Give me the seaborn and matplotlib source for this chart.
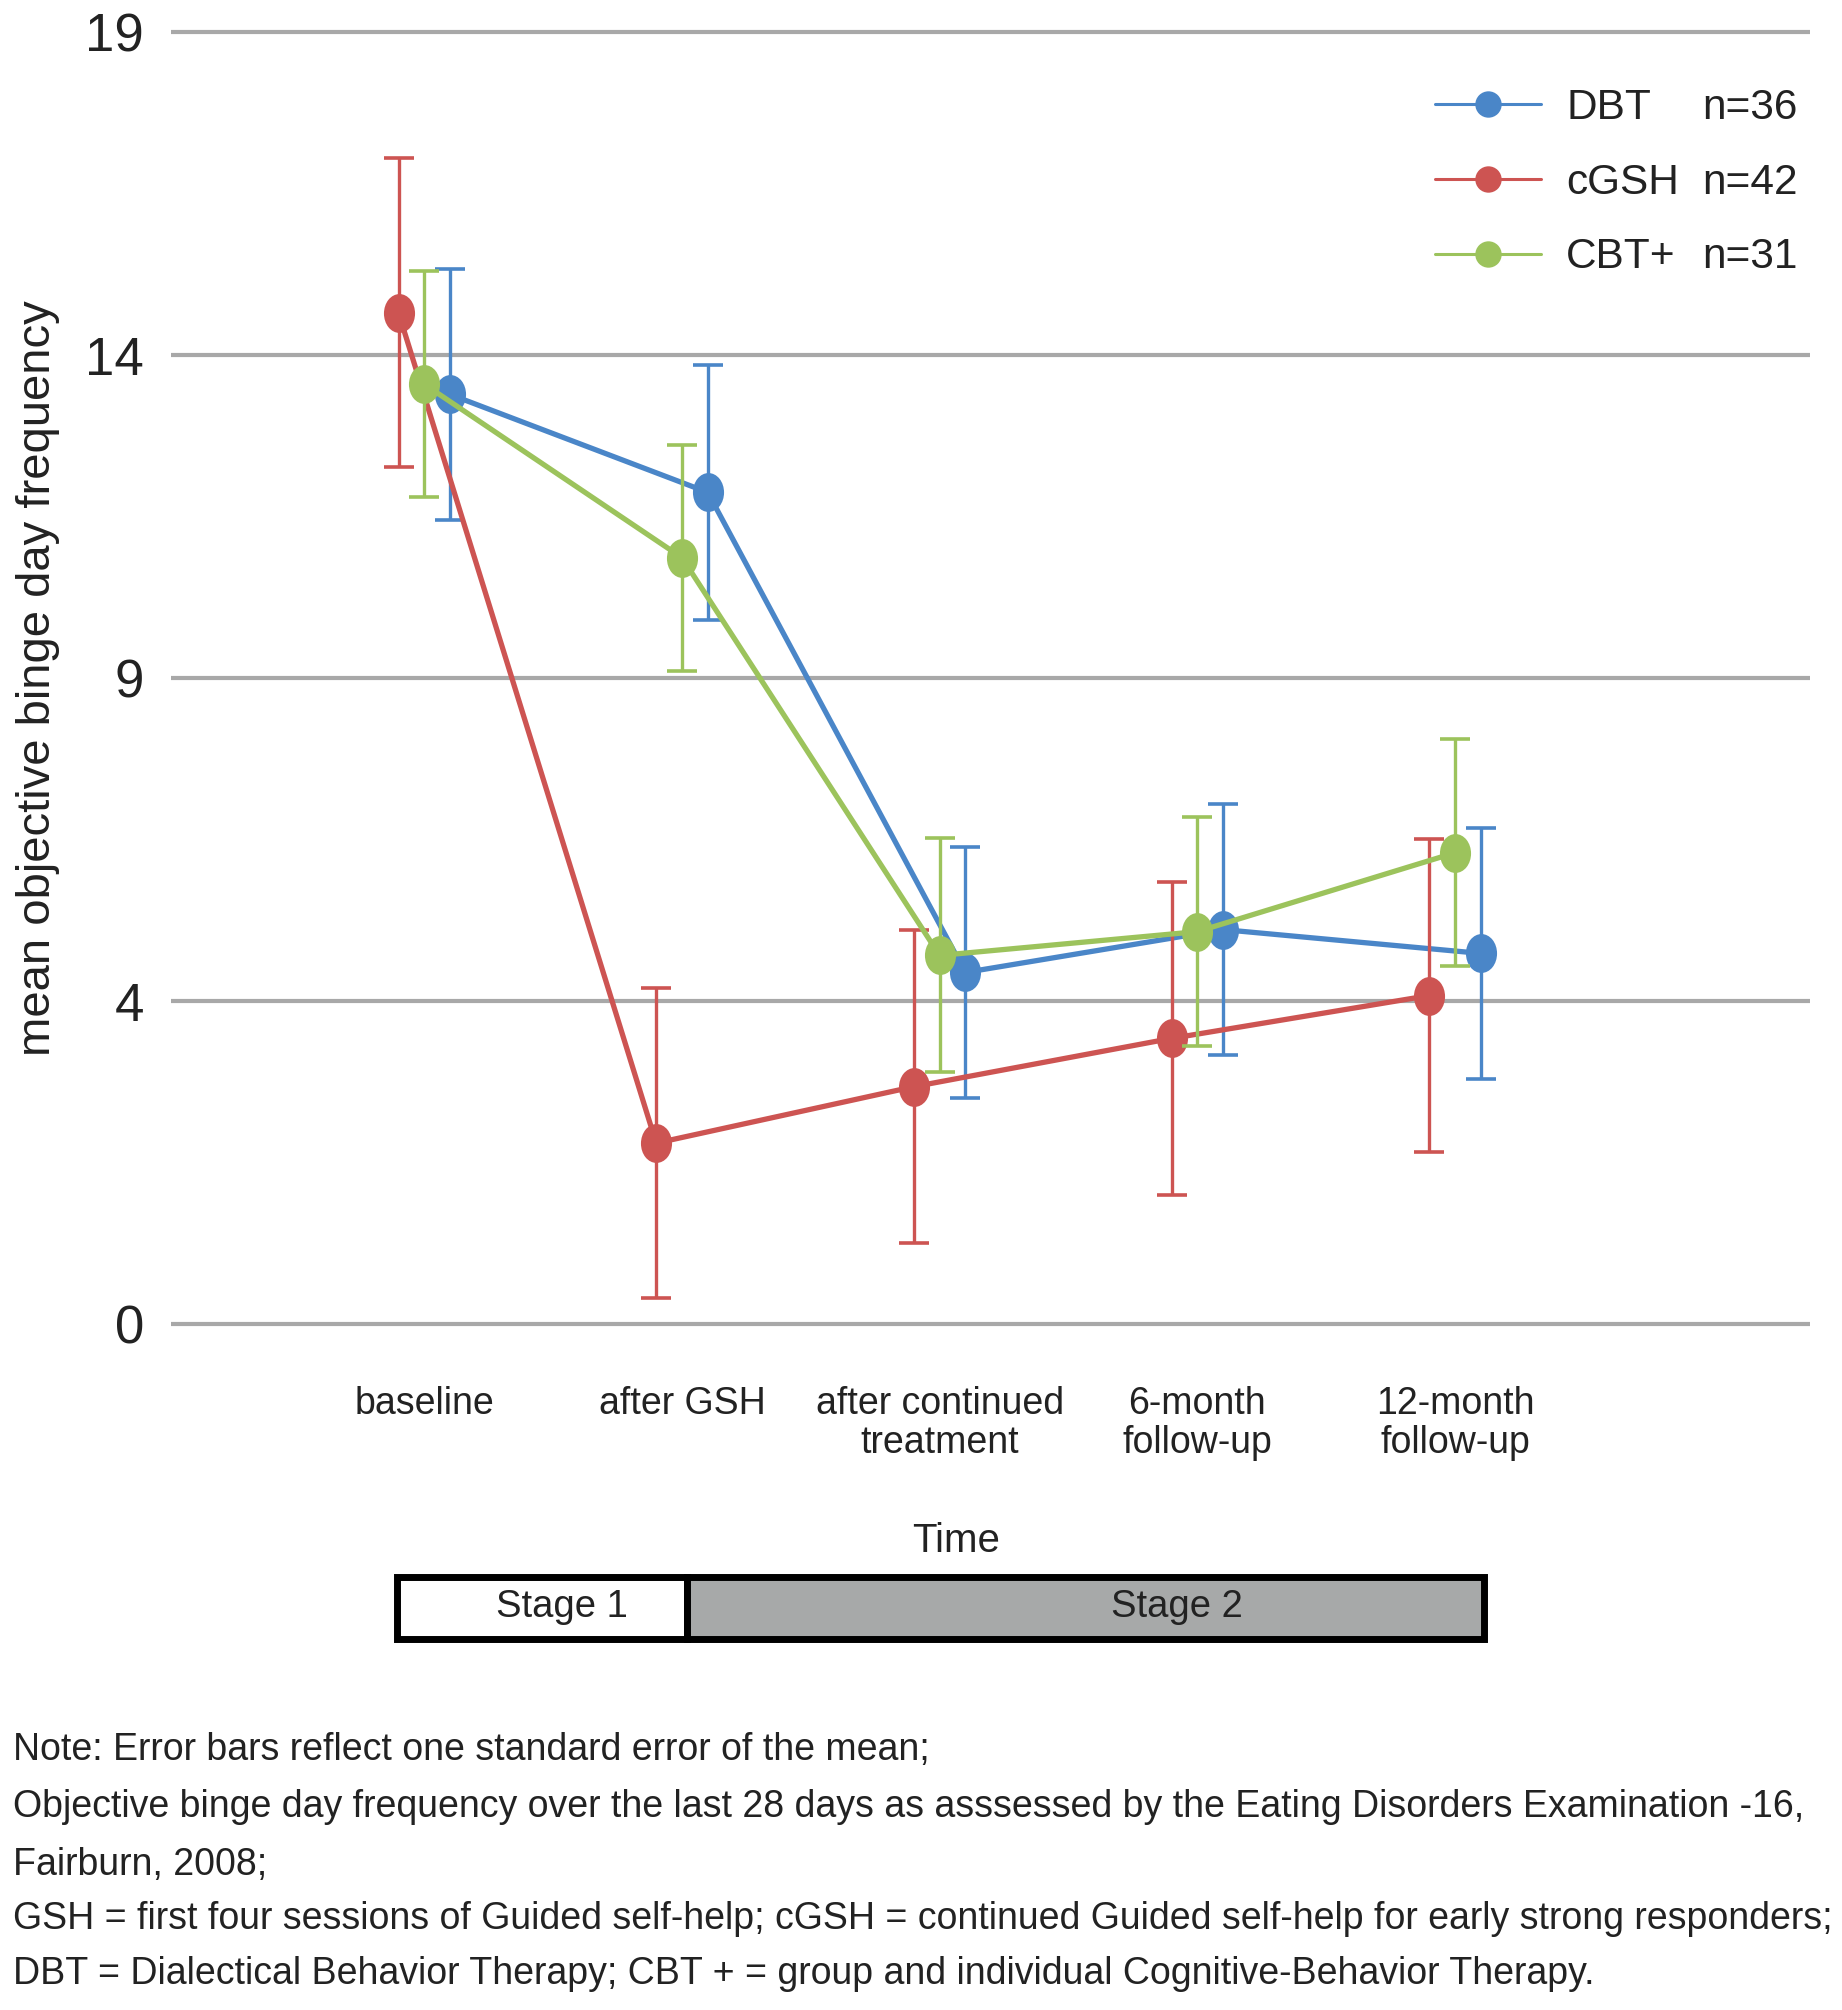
import numpy as np
import pandas as pd
import matplotlib
matplotlib.use('Agg')
import matplotlib.pyplot as plt
import seaborn as sns
from matplotlib.path import Path
from matplotlib.transforms import Affine2D
from matplotlib.lines import Line2D
from matplotlib.patches import Rectangle

# data (means and one standard error)
steps = ['baseline', 'after GSH', 'after continued\ntreatment',
         '6-month\nfollow-up', '12-month\nfollow-up']
groups = ['DBT', 'cGSH', 'CBT+']
group_n = ['n=36', 'n=42', 'n=31']
group_colors = ['#4a86c8', '#cd5452', '#9cc35c']
group_offset = [0.1, -0.1, 0.0]

dbt_mean = [13.67, 12.23, 5.17, 5.80, 5.45]
dbt_se = [1.84, 1.88, 1.85, 1.85, 1.85]
cgsh_mean = [14.87, 2.66, 3.49, 4.20, 4.83]
cgsh_se = [2.27, 2.28, 2.30, 2.30, 2.30]
cbt_mean = [13.82, 11.27, 5.42, 5.77, 6.93]
cbt_se = [1.66, 1.66, 1.72, 1.68, 1.67]

y_ticks = [0, 4.75, 9.5, 14.25, 19]
y_ticklabels = ['0', '4', '9', '14', '19']

notes = [
    'Note: Error bars reflect one standard error of the mean;',
    'Objective binge day frequency over the last 28 days as asssessed by the Eating Disorders Examination -16,',
    'Fairburn, 2008;',
    'GSH = first four sessions of Guided self-help; cGSH = continued Guided self-help for early strong responders;',
    'DBT = Dialectical Behavior Therapy; CBT + = group and individual Cognitive-Behavior Therapy.',
]

rows = []
for g, m, s, off in zip(groups, [dbt_mean, cgsh_mean, cbt_mean],
                        [dbt_se, cgsh_se, cbt_se], group_offset):
    for i, (mv, sv) in enumerate(zip(m, s)):
        rows.append({'group': g, 'step': i + 1, 'x': i + 1 + off,
                     'mean': mv, 'se': sv})
df = pd.DataFrame(rows)

sns.set_theme(style='white')
plt.rcParams['font.family'] = ['Liberation Sans', 'DejaVu Sans']

W, H = 1842, 2010
fig = plt.figure(figsize=(W / 100, H / 100), dpi=100)

def fx(px):
    return px / W

def fy(py):
    return 1 - py / H

# axes: y=0 at 1324 px, y=19 at 32 px, padded 0.1 unit each side
unit = (1324 - 32) / 19
ax_top = 32 - 0.1 * unit
ax_bot = 1324 + 0.1 * unit
ax = fig.add_axes([fx(170.5), fy(ax_bot), fx(1810) - fx(170.5), (ax_bot - ax_top) / H])

oval = Affine2D().scale(0.8, 1.0).transform_path(Path.unit_circle())

for k, (g, c) in enumerate(zip(groups, group_colors)):
    sub = df[df['group'] == g]
    ax.errorbar(sub['x'], sub['mean'], yerr=sub['se'], fmt='none',
                ecolor=c, elinewidth=2.4, capsize=10.5, capthick=2.6,
                zorder=3 + k)
    sns.lineplot(data=sub, x='x', y='mean', color=c, linewidth=3.8,
                 marker=oval, markersize=28, markeredgewidth=0,
                 errorbar=None, sort=False, legend=False, ax=ax,
                 zorder=3.5 + k)

ax.set_xlim(0.015, 6.378)
ax.set_ylim(-0.1, 19.1)
ax.set_yticks(y_ticks)
ax.set_yticklabels(y_ticklabels, fontsize=38,
                   family=['Liberation Sans Narrow', 'Liberation Sans', 'DejaVu Sans'])
ax.set_xticks(range(1, len(steps) + 1))
ax.set_xticklabels(steps, fontsize=27, linespacing=1.1)
ax.tick_params(axis='x', length=0, pad=40, colors='#222222')
ax.tick_params(axis='y', length=0, pad=19, colors='#222222')
ax.yaxis.grid(True, color='#a8a8a8', linewidth=3)
ax.xaxis.grid(False)
ax.set_axisbelow(True)
for sp in ax.spines.values():
    sp.set_visible(False)

ax.set_xlabel('Time', fontsize=29, color='#222222')
ax.xaxis.label.set_va('center')
ax.xaxis.set_label_coords((956 - 170.5) / (1810 - 170.5), -(1534 - ax_bot) / (ax_bot - ax_top) - 0.1 * unit / (ax_bot - ax_top))
ax.set_ylabel('mean objective binge day frequency', fontsize=34, color='#222222')
ax.yaxis.label.set(ha='center', va='center')
ax.yaxis.set_label_coords((38 - 170.5) / (1810 - 170.5), 0.5)

handles = [Line2D([], [], color=c, linewidth=2.2, marker='o', markersize=19,
                  markeredgewidth=0) for c in group_colors]
leg = ax.legend(handles, groups, loc='upper left',
                bbox_to_anchor=(fx(1435), fy(88)), bbox_transform=fig.transFigure,
                frameon=False, fontsize=30.5, handlelength=2.5, handletextpad=0.6,
                labelspacing=0.82, borderpad=0, borderaxespad=0)
for t in leg.get_texts():
    t.set_color('#222222')

fig.canvas.draw()
renderer = fig.canvas.get_renderer()
for t, n in zip(leg.get_texts(), group_n):
    bb = t.get_window_extent(renderer)
    yc = (bb.y0 + bb.y1) / 2 / fig.bbox.height
    fig.text(fx(1702), yc, n, fontsize=30.5, color='#222222', ha='left', va='center')

# stage bar under the time axis
y0, y1 = 1576.5, 1638.5
fig.patches.append(Rectangle((fx(396.5), fy(y1)), fx(686.5) - fx(396.5), (y1 - y0) / H,
                             transform=fig.transFigure, facecolor='white',
                             edgecolor='black', linewidth=5))
fig.patches.append(Rectangle((fx(686.5), fy(y1)), fx(1483.5) - fx(686.5), (y1 - y0) / H,
                             transform=fig.transFigure, facecolor='#a7a9a9',
                             edgecolor='black', linewidth=5))
fig.text(fx(562), fy(1607), 'Stage 1', fontsize=27.5, color='#222222', ha='center', va='center')
fig.text(fx(1177), fy(1607), 'Stage 2', fontsize=27.5, color='#222222', ha='center', va='center')

for line, ypx in zip(notes, [1750, 1807, 1865, 1919, 1974]):
    fig.text(fx(13), fy(ypx), line, fontsize=27, color='#222222', ha='left', va='center')

fig.savefig('out.png', dpi=100)
